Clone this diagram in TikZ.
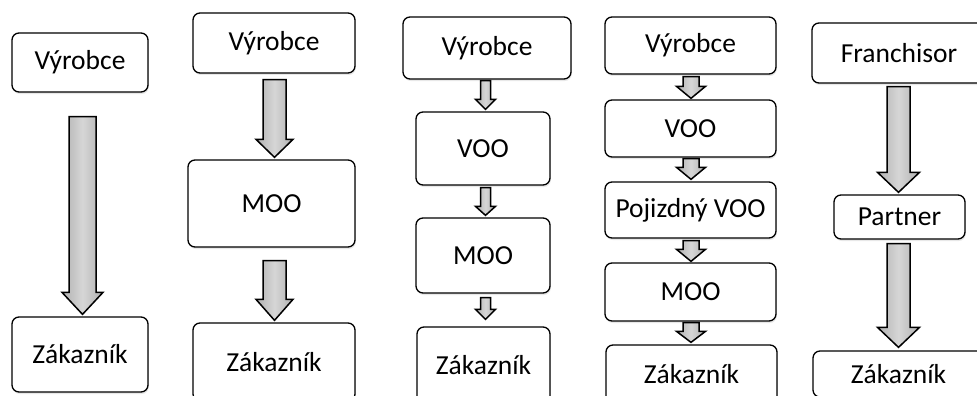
\documentclass[tikz,border=0pt]{standalone}
\usepackage{fontspec}
\setmainfont{Carlito}
\usetikzlibrary{calc,shadows}

\tikzset{
  stage/.style={draw, line width=1.3pt, rounded corners=7pt, fill=white,
    drop shadow={opacity=0.18, shadow xshift=0.8pt, shadow yshift=-2pt},
    font=\fontsize{27.5}{31}\selectfont, inner sep=0pt, align=center},
  flow/.style={draw, line width=1.5pt, line join=miter,
    left color=gray!62, right color=gray!62, middle color=gray!32}
}

% Block arrow hanging below node #1 and pointing at node #2.
% #3 x offset, #4 gap below #1, #5 gap above #2,
% #6 shaft width, #7 head width, #8 head length (all in px)
\newcommand{\flowarrow}[8]{%
  \path ($(#1.south)+(#3,#4)$) coordinate (fa-top);
  \path ($(#2.north)+(#3,-#5)$) coordinate (fa-tip);
  \draw[flow] let \p1=(fa-top), \p2=(fa-tip) in
    ({\x1-#6*0.5pt},\y1) -- ({\x1+#6*0.5pt},\y1)
    -- ({\x1+#6*0.5pt},{\y2+#8pt}) -- ({\x1+#7*0.5pt},{\y2+#8pt})
    -- (\x1,\y2)
    -- ({\x1-#7*0.5pt},{\y2+#8pt}) -- ({\x1-#6*0.5pt},{\y2+#8pt}) -- cycle;
}

\begin{document}
\begin{tikzpicture}[x=1pt,y=-1pt]
  \useasboundingbox (0,0) rectangle (977,396);
  \clip (0,0) rectangle (977,396);

  % direct sale
  \node[stage, minimum width=136pt, minimum height=59pt] (v1) at (80,62.5) {Výrobce};
  \node[stage, minimum width=136pt, minimum height=75pt] (z1) at (80,354.5) {Zákazník};

  % through a retailer
  \node[stage, minimum width=162pt, minimum height=60pt] (v2) at (274,43) {Výrobce};
  \node[stage, minimum width=167pt, minimum height=87pt] (m2) at (271.5,203.5) {MOO};
  \node[stage, minimum width=162pt, minimum height=78pt] (z2) at (274,362) {Zákazník};

  % wholesaler and retailer
  \node[stage, minimum width=168pt, minimum height=62pt] (v3) at (487,48) {Výrobce};
  \node[stage, minimum width=134pt, minimum height=73pt] (w3) at (483,148.5) {VOO};
  \node[stage, minimum width=134pt, minimum height=75pt] (m3) at (483,255.5) {MOO};
  \node[stage, minimum width=133pt, minimum height=76pt] (z3) at (483.5,365) {Zákazník};

  % wholesaler, mobile wholesaler and retailer
  \node[stage, minimum width=171pt, minimum height=57pt] (v4) at (690.5,45.5) {Výrobce};
  \node[stage, minimum width=171pt, minimum height=57pt] (w4) at (690.5,128.5) {VOO};
  \node[stage, minimum width=171pt, minimum height=56pt] (p4) at (690.5,210) {Pojizdný VOO};
  \node[stage, minimum width=171pt, minimum height=58pt] (m4) at (690.5,292) {MOO};
  \node[stage, minimum width=171pt, minimum height=58pt] (z4) at (691.5,374) {Zákazník};

  % franchise
  \node[stage, minimum width=174pt, minimum height=60pt] (f5) at (899,53) {Franchisor};
  \node[stage, minimum width=131pt, minimum height=44pt] (p5) at (899.5,217) {Partner};
  \node[stage, minimum width=171pt, minimum height=46pt] (z5) at (898.5,374) {Zákazník};

  % arrows
  \flowarrow{v1}{z1}{2.5}{24}{2}{27}{41}{22}

  \flowarrow{v2}{m2}{0.5}{6}{2}{23}{37}{18}
  \flowarrow{m2}{z2}{3}{13}{2}{23}{37}{21}

  \flowarrow{v3}{w3}{-1.5}{1}{2}{10}{20}{10}
  \flowarrow{w3}{m3}{2.5}{2}{2}{10}{20}{9}
  \flowarrow{m3}{z3}{2.5}{4}{7}{10}{20}{10}

  \flowarrow{v4}{w4}{0.5}{2}{1}{16}{29}{12}
  \flowarrow{w4}{p4}{0.5}{1}{2}{16}{29}{12}
  \flowarrow{p4}{m4}{0.5}{2}{1}{16}{29}{12}
  \flowarrow{m4}{z4}{0.5}{1}{2}{16}{29}{11}

  \flowarrow{f5}{p5}{-0.5}{3}{2}{23}{42}{20}
  \flowarrow{p5}{z5}{-1}{4}{3}{23}{42}{20}
\end{tikzpicture}
\end{document}
